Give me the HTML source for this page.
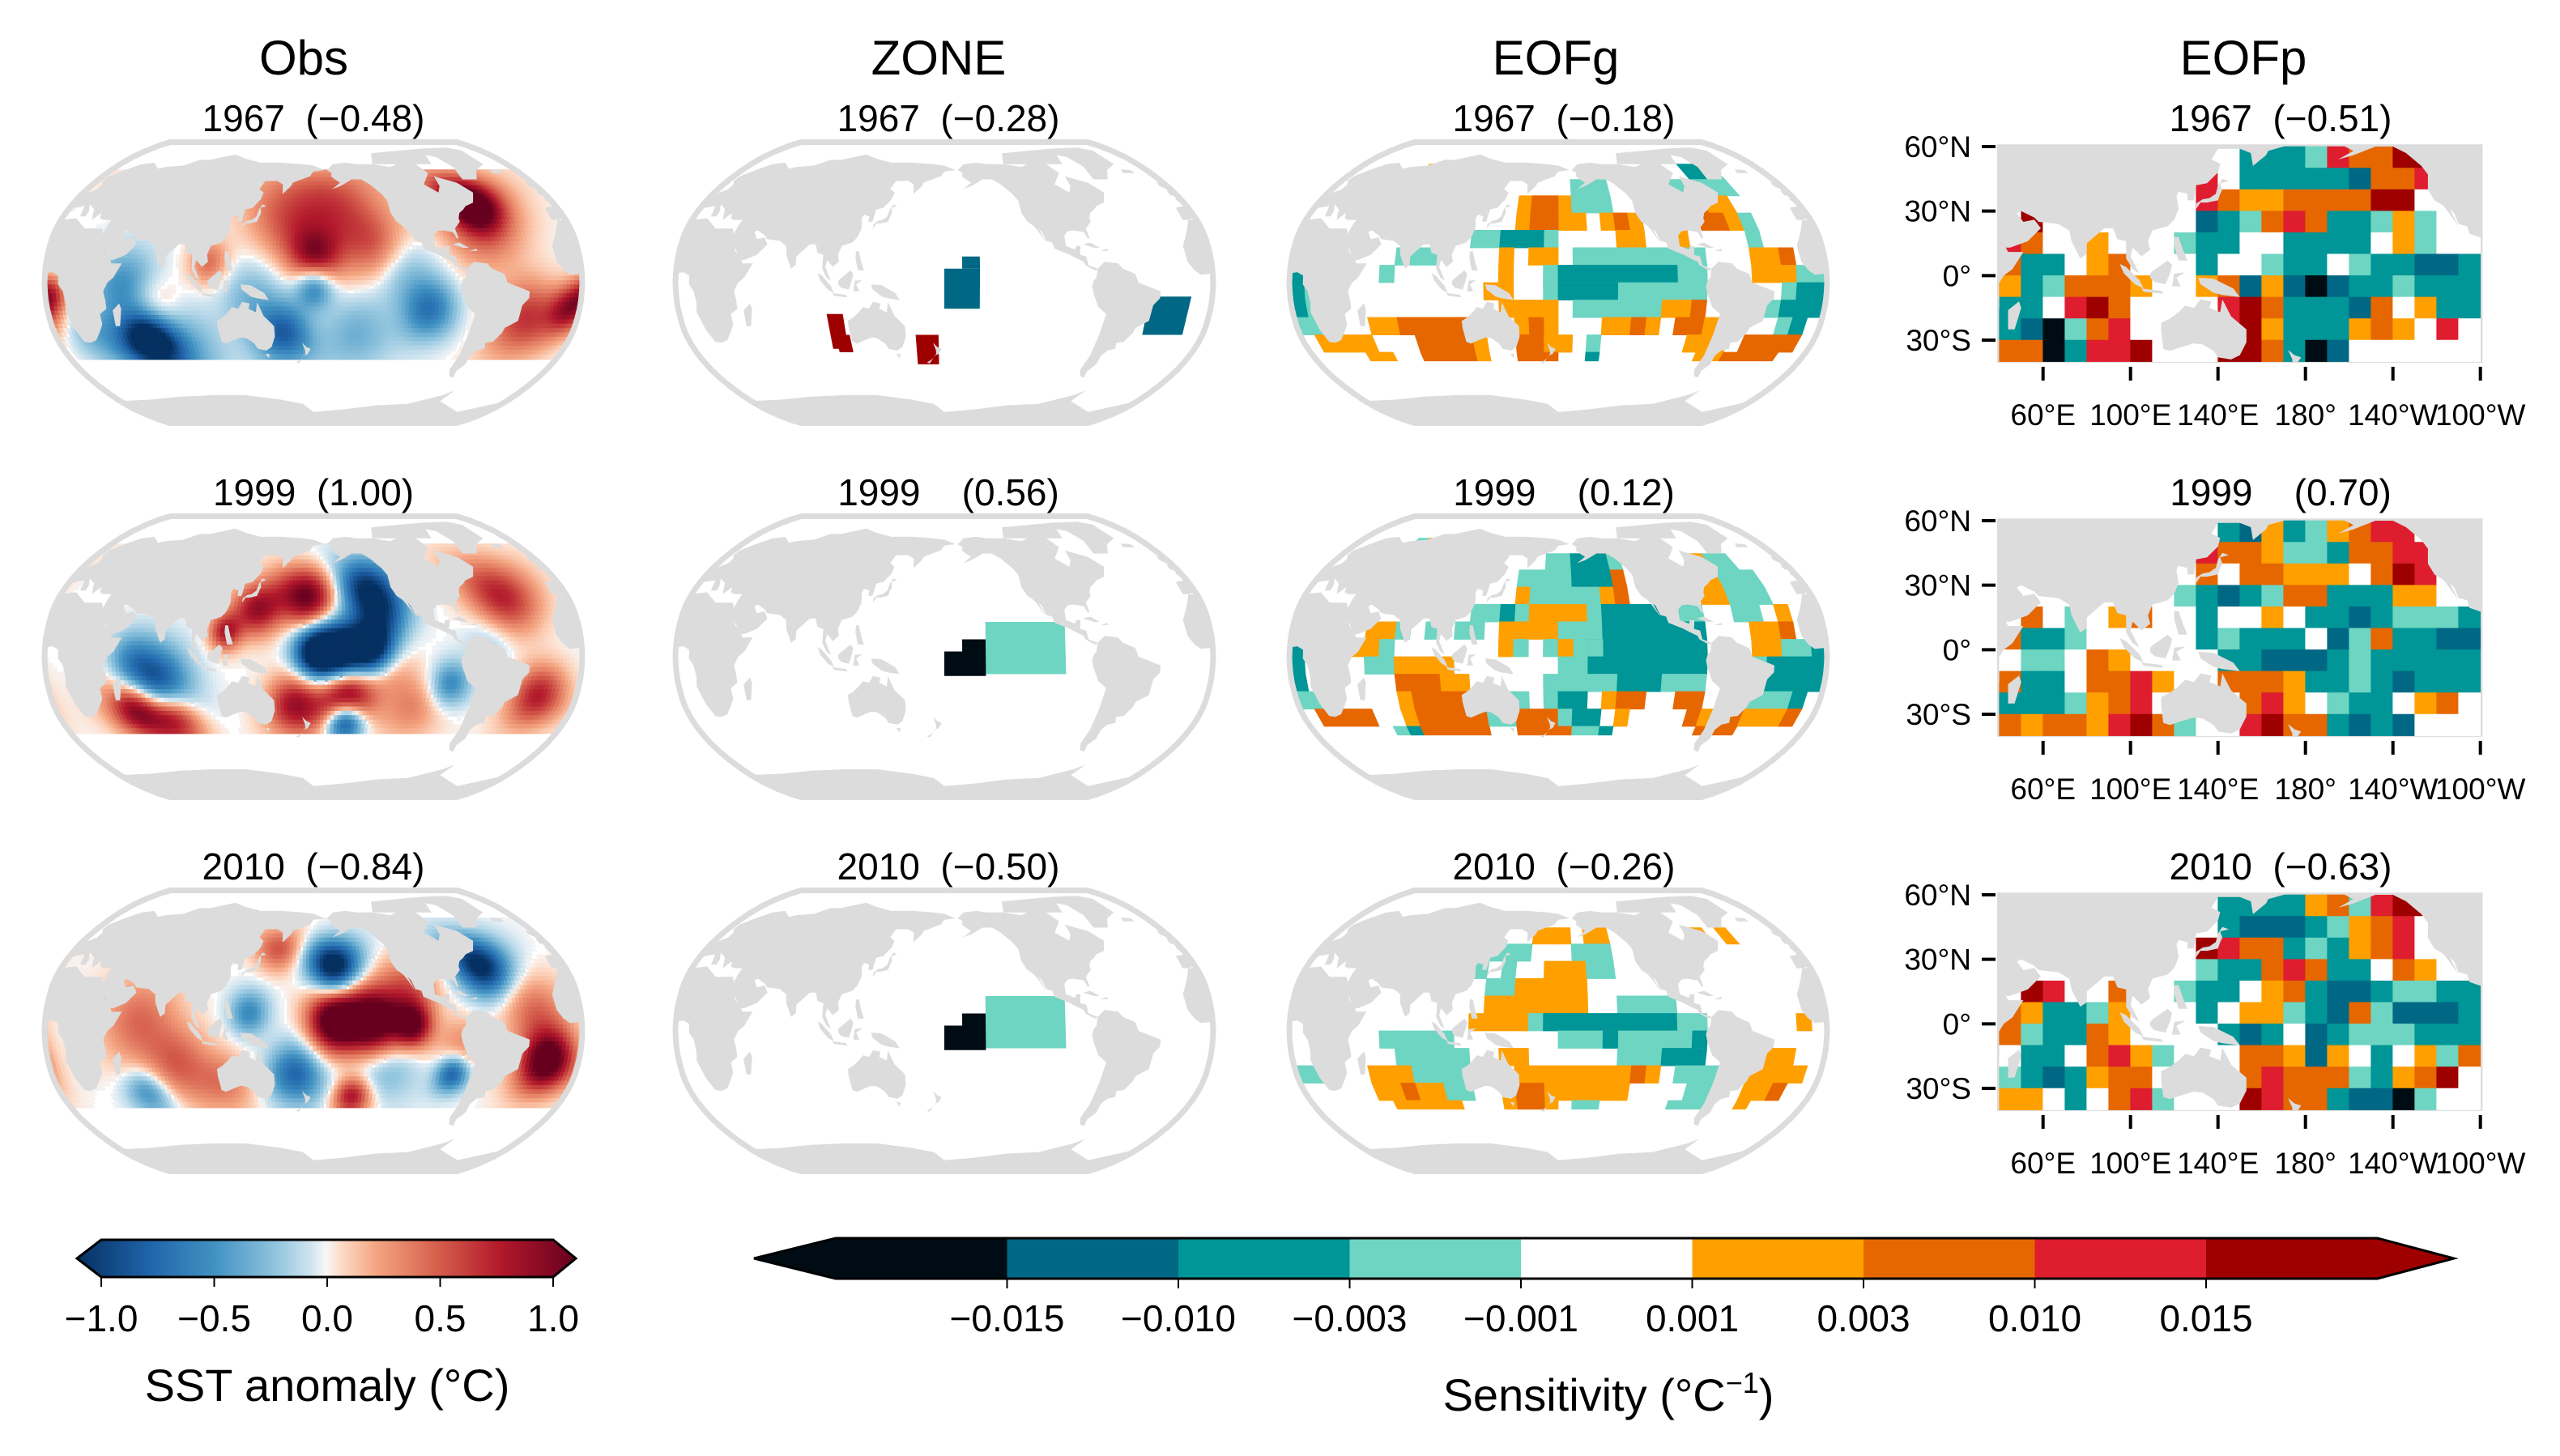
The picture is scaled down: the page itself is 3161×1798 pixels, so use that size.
<!DOCTYPE html>
<html><head><meta charset="utf-8"><style>
html,body{margin:0;padding:0;background:#fff;}
svg{display:block;font-family:"Liberation Sans",Arial,sans-serif;}
.pre{white-space:pre;}
</style></head><body>
<svg id="fig" width="3161" height="1798" viewBox="0 0 3161 1798" xmlns="http://www.w3.org/2000/svg">
<rect x="0" y="0" width="3161" height="1798" fill="#fff"/>
<g font-size="60" text-anchor="middle" fill="#000">
<text x="375" y="92">Obs</text>
<text x="1159" y="92">ZONE</text>
<text x="1921" y="92">EOFg</text>
<text x="2770" y="92">EOFp</text>
</g>
<g font-size="46" text-anchor="middle" fill="#000">
<text class="pre" xml:space="preserve" x="387" y="162">1967  (−0.48)</text>
<text class="pre" xml:space="preserve" x="1171" y="162">1967  (−0.28)</text>
<text class="pre" xml:space="preserve" x="1931" y="162">1967  (−0.18)</text>
<text class="pre" xml:space="preserve" x="2816" y="162">1967  (−0.51)</text>
<text class="pre" xml:space="preserve" x="387" y="624">1999  (1.00)</text>
<text class="pre" xml:space="preserve" x="1171" y="624">1999    (0.56)</text>
<text class="pre" xml:space="preserve" x="1931" y="624">1999    (0.12)</text>
<text class="pre" xml:space="preserve" x="2816" y="624">1999    (0.70)</text>
<text class="pre" xml:space="preserve" x="387" y="1086">2010  (−0.84)</text>
<text class="pre" xml:space="preserve" x="1171" y="1086">2010  (−0.50)</text>
<text class="pre" xml:space="preserve" x="1931" y="1086">2010  (−0.26)</text>
<text class="pre" xml:space="preserve" x="2816" y="1086">2010  (−0.63)</text>
</g>
<defs id="defs">
<linearGradient id="rdbu" x1="0" x2="1" y1="0" y2="0">
<stop offset="0" stop-color="#053061"/><stop offset="0.15" stop-color="#2166ac"/><stop offset="0.28" stop-color="#4393c3"/>
<stop offset="0.4" stop-color="#92c5de"/><stop offset="0.47" stop-color="#d1e5f0"/><stop offset="0.5" stop-color="#f7f7f7"/>
<stop offset="0.53" stop-color="#fddbc7"/><stop offset="0.6" stop-color="#f4a582"/><stop offset="0.72" stop-color="#d6604d"/>
<stop offset="0.85" stop-color="#b2182b"/><stop offset="1" stop-color="#67001f"/>
</linearGradient>
</defs>
<g id="panels"></g>
<g id="cbars"></g>
</svg>
<script>
// ---------- data ----------
const sensCodes = ['a','b','c','d','.','e','f','g','h'];
const sensColors = ['#000c14','#006884','#009596','#6dd5c2','#ffffff','#ff9f00','#e66700','#de1d2f','#9e0000'];
const sensTicks = ['−0.015','−0.010','−0.003','−0.001','0.001','0.003','0.010','0.015'];
const sstTicks = [-1.0,-0.5,0.0,0.5,1.0];
const sstTickLabels = ['−1.0','−0.5','0.0','0.5','1.0'];
const eofpLonTicks = [60,100,140,180,220,260];
const eofpLonLabels = ['60°E','100°E','140°E','180°','140°W','100°W'];
const eofpLatTicks = [60,30,0,-30];
const eofpLatLabels = ['60°N','30°N','0°','30°S'];

// Obs blobs (lon, lat, radius deg, value)
const obs1967Lon = [298,297,182,165,220,181,65,160,54,259,71,325,353,4,110,140,210,240,90,30,200];
const obs1967Lat = [45,35,14,38,22,-2,-33,-30,-3,-16,-16,-21,-16,-7,11,-10,-30,5,-35,-30,45];
const obs1967Rad = [7,12,8,12,10,6,8,8,10,8,8,10,6,5,6,10,10,10,10,8,10];
const obs1967Val = [1.0,0.5,0.8,0.5,0.5,-0.7,-1.3,-0.7,-0.5,-0.6,0.4,0.6,0.7,0.6,0.4,-0.3,-0.3,-0.25,-0.3,-0.3,0.3];

const obs1999Lon = [182,200,221,216,229,176,142,203,168,76,58,58,82,203,313,334,121,273,250,300,40,230];
const obs1999Lat = [2,2,4,41,26,34,27,-21,-28,-16,-3,-31,-36,-38,34,-23,14,-16,-30,10,-20,-8];
const obs1999Rad = [7,8,7,8,8,8,7,8,8,10,8,7,7,5,10,8,5,6,8,8,8,8];
const obs1999Val = [-1.2,-1.3,-1.1,-0.8,-0.7,1.0,0.8,1.0,0.8,-0.8,-0.4,1.0,0.8,-1.0,0.7,0.7,0.7,-0.5,0.3,-0.2,0.2,0.3];

const obs2010Lon = [221,194,247,195,300,339,168,137,276,63,90,155,247,208,63,330,230,120,280];
const obs2010Lat = [5,5,3,37,37,-18,-25,10,-25,5,-20,47,25,-38,-36,10,-20,-30,-10];
const obs2010Rad = [9,8,6,7,8,8,8,6,5,12,10,6,8,5,6,10,10,8,8];
const obs2010Val = [1.3,1.2,1.0,-1.2,-1.1,1.2,-0.7,-0.5,-0.8,0.4,0.4,0.5,0.4,0.8,-0.5,0.4,-0.3,0.3,0.3];

// ZONE boxes [lon0, lon1, latTop, latBottom, code]
const zone1967Boxes = [[100,111,-18,-38,'h'],[104,114,-30,-40,'h'],[160,176,-30,-47,'h'],[180,204,8,-15,'b'],[192,204,15,8,'b'],[318,346,-8,-30,'b']];
const zone1999Boxes = [[180,208,3,-11,'a'],[192,208,10,3,'a'],[208,262,20,-10,'d']];
const zone2010Boxes = [[180,208,3,-11,'a'],[192,208,10,3,'a'],[208,262,20,-10,'d']];

// EOFg segments [row, col0, col1, code]
const eofg1967Segs = [[0,6,8,'e'],[0,29,30,'c'],[0,31,31,'d'],
[1,19,21,'d'],[1,27,31,'d'],
[2,15,18,'e'],[2,16,17,'f'],[2,19,21,'d'],[2,28,28,'f'],[2,29,30,'e'],
[3,15,18,'e'],[3,16,17,'f'],[3,19,19,'e'],[3,21,23,'e'],[3,22,22,'f'],[3,28,29,'f'],[3,30,30,'e'],[3,31,31,'d'],
[4,12,17,'d'],[4,14,16,'c'],[4,22,23,'e'],[4,26,26,'e'],[4,31,31,'d'],
[5,7,9,'d'],[5,14,14,'e'],[5,16,17,'e'],[5,19,27,'d'],[5,31,33,'e'],[5,33,33,'f'],
[6,0,0,'c'],[6,6,6,'d'],[6,14,14,'e'],[6,17,27,'d'],[6,18,22,'c'],[6,23,25,'c'],[6,31,33,'e'],[6,34,35,'d'],
[7,0,0,'c'],[7,1,1,'d'],[7,13,14,'e'],[7,17,27,'d'],[7,18,21,'c'],[7,33,33,'d'],[7,34,35,'c'],
[8,0,0,'c'],[8,1,1,'d'],[8,14,17,'e'],[8,19,24,'d'],[8,25,27,'e'],[8,27,27,'f'],[8,32,32,'d'],[8,33,35,'c'],
[9,0,1,'d'],[9,5,11,'e'],[9,7,11,'f'],[9,15,17,'e'],[9,16,16,'f'],[9,21,24,'e'],[9,23,23,'f'],[9,26,27,'f'],[9,28,28,'e'],[9,33,33,'d'],[9,34,34,'c'],
[10,1,4,'e'],[10,8,11,'f'],[10,12,12,'e'],[10,15,16,'f'],[10,17,18,'e'],[10,20,20,'d'],[10,27,29,'e'],[10,31,34,'f'],
[11,4,5,'e'],[11,8,11,'f'],[11,12,12,'e'],[11,15,17,'f'],[11,20,20,'c'],[11,28,29,'e'],[11,30,33,'f']];
const eofg1999Segs = [[0,5,5,'d'],[0,6,8,'e'],[0,8,8,'f'],
[1,17,18,'d'],[1,19,21,'c'],[1,22,22,'d'],[1,29,29,'e'],[1,30,31,'d'],
[2,15,18,'d'],[2,19,21,'c'],[2,22,22,'f'],[2,28,29,'e'],[2,30,32,'d'],
[3,15,15,'e'],[3,16,18,'d'],[3,19,20,'d'],[3,21,21,'e'],[3,22,22,'f'],[3,28,29,'e'],[3,30,32,'d'],
[4,12,15,'d'],[4,14,14,'c'],[4,16,19,'e'],[4,20,20,'d'],[4,21,25,'c'],[4,26,27,'d'],[4,30,31,'d'],[4,33,33,'e'],
[5,5,6,'e'],[5,7,7,'d'],[5,9,9,'d'],[5,11,12,'d'],[5,14,17,'e'],[5,18,20,'d'],[5,21,27,'c'],[5,31,33,'e'],[5,33,33,'f'],
[6,0,0,'c'],[6,4,5,'e'],[6,6,6,'d'],[6,14,14,'e'],[6,15,15,'d'],[6,17,19,'d'],[6,18,18,'e'],[6,20,27,'c'],[6,20,20,'d'],[6,31,32,'e'],[6,33,35,'d'],[6,35,35,'c'],
[7,0,0,'c'],[7,5,6,'d'],[7,7,10,'e'],[7,18,19,'d'],[7,20,27,'c'],[7,31,31,'d'],[7,32,35,'c'],
[8,0,0,'c'],[8,7,11,'e'],[8,7,9,'f'],[8,17,21,'d'],[8,22,24,'c'],[8,25,27,'d'],[8,31,35,'c'],
[9,0,1,'d'],[9,7,7,'e'],[9,8,11,'f'],[9,13,15,'d'],[9,17,19,'d'],[9,18,19,'c'],[9,21,21,'e'],[9,22,23,'f'],[9,26,27,'f'],[9,30,33,'d'],[9,34,34,'c'],
[10,1,4,'f'],[10,7,7,'e'],[10,8,12,'f'],[10,13,14,'d'],[10,15,17,'f'],[10,18,20,'d'],[10,19,20,'c'],[10,22,22,'e'],[10,27,27,'f'],[10,28,29,'e'],[10,29,30,'f'],[10,31,34,'e'],[10,34,34,'f'],
[11,6,7,'d'],[11,7,7,'c'],[11,8,12,'f'],[11,15,18,'f'],[11,19,20,'d'],[11,21,21,'c'],[11,28,30,'f']];
const eofg2010Segs = [[1,16,17,'e'],[1,18,18,'e'],[1,20,21,'e'],[1,29,29,'e'],[1,31,31,'e'],
[2,19,21,'d'],[2,13,15,'d'],
[3,14,14,'d'],[3,17,19,'e'],[3,20,21,'d'],[3,12,12,'d'],
[4,15,19,'e'],[4,13,14,'d'],
[5,13,19,'e'],[5,22,25,'d'],
[6,12,15,'e'],[6,16,18,'d'],[6,17,17,'c'],[6,18,25,'c'],[6,26,27,'d'],[6,34,34,'e'],
[7,6,6,'d'],[7,7,10,'d'],[7,18,27,'d'],[7,21,21,'c'],[7,27,27,'c'],
[8,7,11,'d'],[8,14,15,'e'],[8,22,27,'d'],[8,25,27,'c'],[8,32,33,'e'],
[9,0,2,'d'],[9,5,7,'e'],[9,8,11,'d'],[9,15,24,'e'],[9,23,23,'f'],[9,26,28,'d'],[9,31,34,'e'],
[10,5,9,'e'],[10,7,7,'f'],[10,10,11,'d'],[10,14,21,'e'],[10,15,16,'f'],[10,22,22,'e'],[10,27,28,'d'],[10,31,33,'e'],[10,33,33,'f'],
[11,6,10,'e'],[11,14,17,'e'],[11,15,16,'f'],[11,19,20,'d'],[11,26,28,'d'],[11,31,31,'e']];

// EOFp grids
const eofp1967Rows = ["...........cccdgffhh..",".........g.cccccbffg..",".........gfeeffffhh...",".h.......bcdfgfccded..","gf..e...dcc..cccc.ed..","fcc.ef...c..dcc.dccbbc","ecdfffe..efbebabccdccc","cc.ghf....ghfcccbf.ecc","cbadfg....ghecccefe.g.","ffacggh...hhfcab......"];
const eofp1999Rows = ["..........cbecdefgg...",".........gffeddcffgg..",".........f.ffeee.fhg..","........dcbcdffcccee..",".f.d.ef..c..e.ccbcdddc","fccd.....cdccc.bdfccbb",".dd.fe....ccbbbcdccccc","fcc.ffge..fffeccdcbccc","cccdefg....fge.dcc.ef.","feffeghfd..ghffcbcb..."];
const eofp2010Rows = ["..........ccccefdghh..","..........cbbbcdefg...",".........hgffcdcefg...",".........dccfgfcc.fe..",".hg..f..dcc.efcbbcddcc","feccde...c.eedcbfdbbbc","fdccfe....cbc.bcdddccc",".cc.fged...ffebe.c.edf","dcbceff....fgfffdcefh.","ee.c.fgd...hgffcbbad.."];

// land polygons [lon,lat]
const landPolys = [
[[-17,21],[-16,12],[-12,7],[-8,4.5],[-2,5],[5,6],[9,4],[9,-1],[12,-5],[13,-12],[12,-17],[15,-27],[18,-34],[22,-34.5],[27,-33],[32,-28],[35,-24],[35,-18],[40,-15],[40,-10],[39,-5],[42,0],[46,3],[51,11],[44,11],[43,13],[38,18],[34,28],[32,31],[20,31],[10,37],[0,36],[-6,36],[-10,31],[-13,27]],
[[44,-25],[47,-25],[50,-15],[49,-12],[44,-16]],
[[-10,36],[-9,43],[-2,44],[-4,48],[2,51],[8,54],[8,57],[5,59],[5,62],[12,66],[20,70],[30,71],[40,67],[45,68],[60,69],[70,73],[80,73],[100,77],[113,74],[130,71],[150,71],[170,70],[180,69],[190,66],[180,65],[177,62],[170,60],[163,58],[162,56],[156,51],[155,57],[150,59],[140,59],[137,54],[141,52],[140,48],[135,43],[130,42],[129,35],[126,35],[126,38],[122,39],[121,37],[122,31],[120,26],[117,23],[110,21],[108,16],[109,12],[105,9],[101,13],[100,9],[104,1],[101,3],[98,8],[98,16],[94,17],[92,22],[88,22],[80,15],[80,10],[77,8],[73,16],[72,21],[67,24],[58,25],[56,27],[50,30],[48,29],[51,25],[56,26],[59,22],[53,16],[45,13],[43,13],[40,16],[36,22],[34,28],[35,33],[36,36],[30,36],[27,37],[26,40],[24,38],[22,36],[20,40],[19,42],[13,45],[16,41],[16,38],[12,38],[10,44],[3,43],[-1,37],[-6,36]],
[[130,31],[132,34],[135,34],[140,35],[141,38],[142,40],[141,43],[145,44],[142,45],[140,42],[139,38],[136,36],[133,35.5],[130,33.5]],
[[109,1],[110,2],[117,7],[119,5],[118,1],[116,-4],[111,-3],[109,-1]],
[[95,5.5],[98,4],[104,-2],[106,-6],[102,-4],[97,1]],
[[105,-6],[114,-7],[115,-8.5],[106,-7.5]],
[[119,-5],[120,1],[125,1.5],[121,-1],[123,-5]],
[[120,18],[122,18],[124,12],[126,7],[122,7],[120,14]],
[[131,-1],[138,-1.5],[147,-6],[150,-10],[142,-9],[138,-8],[132,-4]],
[[114,-22],[114,-26],[115,-34],[118,-35],[124,-33],[129,-31.5],[133,-32],[138,-35],[140,-38],[146,-39],[150,-37],[153,-31],[153,-25],[146,-19],[142,-11],[141,-17],[136,-15],[137,-12],[132,-11],[129,-15],[125,-14],[122,-17],[118,-20]],
[[145,-41],[148,-41],[147,-43.5]],
[[172,-34.5],[175,-37],[178,-38],[176,-41],[174,-41.5],[171,-44],[167,-46],[169,-46.5],[174,-41],[174,-39]],
[[-168,66],[-162,70],[-150,71],[-140,70],[-125,70],[-110,68],[-95,72],[-85,70],[-80,64],[-90,57],[-82,52],[-78,56],[-77,62],[-70,60],[-62,58],[-55,52],[-60,46],[-67,44],[-70,42],[-74,40],[-76,37],[-76,35],[-81,31],[-80,26],[-81,25],[-83,29],[-90,30],[-94,29.5],[-97,27],[-97,21],[-91,19],[-90,21],[-87,21],[-88,16],[-84,15],[-83,10],[-80,9],[-77,8],[-78,7],[-80,7.5],[-85,10],[-86,12],[-92,14.5],[-95,16],[-105,19.5],[-106,23],[-110,24],[-112,29],[-114,31],[-110,23],[-115,30],[-117,32.5],[-121,35],[-124,40],[-124,47],[-127,51],[-134,57],[-140,60],[-148,60],[-153,58],[-158,56],[-165,54],[-158,58],[-162,60],[-165,62],[-164,64]],
[[-85,22],[-80,23],[-74,20],[-78,20]],
[[-74,18],[-69,19.5],[-68.5,18.3]],
[[-55,60],[-43,60],[-35,66],[-22,70],[-20,80],[-30,83],[-60,82],[-72,78],[-58,75],[-53,68]],
[[-125,70],[-70,70],[-60,82],[-120,78]],
[[-77,8],[-72,12],[-63,11],[-60,8],[-52,5],[-50,0],[-44,-2],[-35,-5],[-35,-9],[-39,-13],[-40,-22],[-48,-26],[-49,-29],[-53,-34],[-58,-34.5],[-57,-38],[-62,-39],[-65,-42],[-65,-47],[-69,-51],[-68,-55],[-72,-54],[-75,-50],[-73,-42],[-72,-30],[-70,-18],[-76,-14],[-80,-6],[-81,-2],[-80,1],[-78,3]],
[[-5,50],[1,51],[0,53],[-2,57],[-5,58.5],[-6,56],[-3,54],[-5,52]],
[[-24,64],[-14,64],[-14,66],[-22,66.5]],
[[-180,-78],[-150,-76],[-120,-73],[-90,-72],[-65,-66],[-58,-63],[-62,-70],[-30,-78],[0,-70],[30,-69],[60,-67],[90,-66],[120,-66],[150,-69],[170,-72],[180,-78],[180,-90],[-180,-90]]
];

// ---------- helpers ----------
const NS='http://www.w3.org/2000/svg';
function mk(tag, attrs, parent){const e=document.createElementNS(NS,tag);for(const k in attrs)e.setAttribute(k,attrs[k]);if(parent)parent.appendChild(e);return e;}
const XT=[1,0.9986,0.9954,0.99,0.9822,0.973,0.96,0.9427,0.9216,0.8962,0.8679,0.835,0.7986,0.7597,0.7186,0.6732,0.6213,0.5722,0.5322];
const YT=[0,0.062,0.124,0.186,0.248,0.31,0.372,0.434,0.4958,0.5571,0.6176,0.6769,0.7346,0.7903,0.8435,0.8936,0.9394,0.9761,1];
function rob(lat){const s=lat<0?-1:1;let a=Math.min(90,Math.abs(lat))/5;let i=Math.floor(a);if(i>17)i=17;const f=a-i;return [XT[i]+(XT[i+1]-XT[i])*f, s*(YT[i]+(YT[i+1]-YT[i])*f)];}
const HW=332, VH=173.5;
function proj(cx,cy,lon,lat){const r=rob(lat);return [cx+(lon-180)/180*HW*r[0], cy-r[1]*VH];}
function outlinePath(cx,cy){let p=[];for(let la=90;la>=-90;la-=5)p.push(proj(cx,cy,0,la));for(let la=-90;la<=90;la+=5)p.push(proj(cx,cy,360,la));return 'M'+p.map(q=>q[0].toFixed(1)+','+q[1].toFixed(1)).join('L')+'Z';}
function sensColor(c){return sensColors[sensCodes.indexOf(c)];}
const cmStops=[[-1,[5,48,97]],[-0.7,[33,102,172]],[-0.44,[67,147,195]],[-0.2,[146,197,222]],[-0.06,[209,229,240]],[0,[247,247,247]],[0.06,[253,219,199]],[0.2,[244,165,130]],[0.44,[214,96,77]],[0.7,[178,24,43]],[1,[103,0,31]]];
function rdbu(v){v=Math.max(-1,Math.min(1,v));for(let i=0;i<cmStops.length-1;i++){const a=cmStops[i],b=cmStops[i+1];if(v<=b[0]){const t=(v-a[0])/(b[0]-a[0]);return 'rgb('+a[1].map((c,j)=>Math.round(c+(b[1][j]-c)*t)).join(',')+')';}}return 'rgb(103,0,31)';}
function cellPoly(cx,cy,lon0,lon1,lat0,lat1){const pts=[proj(cx,cy,lon0,lat0),proj(cx,cy,lon1,lat0),proj(cx,cy,lon1,lat1),proj(cx,cy,lon0,lat1)];return pts.map(q=>q[0].toFixed(1)+','+q[1].toFixed(1)).join(' ');}

const panels=document.getElementById('panels');
const defs=document.getElementById('defs');
const colX=[387,1166,1924];
const rowY=[349,811,1273];
let clipN=0;

function robinsonPanel(cx,cy,name){
  const id='clip'+(clipN++);
  const cp=mk('clipPath',{id:id},defs);
  mk('path',{d:outlinePath(cx,cy)},cp);
  const g=mk('g',{},panels);
  
  
  const inner=mk('g',{'clip-path':'url(#'+id+')'},g);
  mk('path',{d:outlinePath(cx,cy),fill:'#ffffff'},inner);
  const data=mk('g',{},inner);
  
  
  const land=mk('g',{fill:'#dcdcdc'},inner);
  
  
  for(const poly of landPolys){for(const sh of [-360,0,360]){
    const pts=poly.map(p=>{const q=proj(cx,cy,p[0]+sh,p[1]);return q[0].toFixed(1)+','+q[1].toFixed(1);}).join(' ');
    mk('polygon',{points:pts},land);}}
  const ol=mk('path',{d:outlinePath(cx,cy),fill:'none',stroke:'#dcdcdc','stroke-width':7},g);
  
  
  return data;
}

// Obs panels
function obsPanel(r,lons,lats,rads,vals,year){
  const cx=colX[0],cy=rowY[r];
  const data=robinsonPanel(cx,cy,'obs-map-'+year);
  for(let lat=66;lat>-42;lat-=2.5){for(let lon=0;lon<360;lon+=2.5){
    const la=lat-1.25,lo=lon+1.25;let v=0;
    for(let i=0;i<lons.length;i++){let dl=Math.abs(lo-lons[i]);if(dl>180)dl=360-dl;dl*=Math.cos(la*Math.PI/180);const dd=dl*dl+(la-lats[i])*(la-lats[i]);const rr=rads[i]*1.5;v+=vals[i]*Math.exp(-dd/(2*rr*rr));}
    if(Math.abs(v)<0.01)continue;
    const c=mk('polygon',{points:cellPoly(cx,cy,lon-0.4,lon+2.9,lat+0.4,lat-2.9),fill:rdbu(v)},data);
    
    
  }}
}
obsPanel(0,obs1967Lon,obs1967Lat,obs1967Rad,obs1967Val,'1967');
obsPanel(1,obs1999Lon,obs1999Lat,obs1999Rad,obs1999Val,'1999');
obsPanel(2,obs2010Lon,obs2010Lat,obs2010Rad,obs2010Val,'2010');

// ZONE panels
function zonePanel(r,boxes,year){
  const cx=colX[1],cy=rowY[r];
  const data=robinsonPanel(cx,cy,'zone-map-'+year);
  for(const b of boxes){
    const c=mk('polygon',{points:cellPoly(cx,cy,b[0],b[1],b[2],b[3]),fill:sensColor(b[4])},data);
    
    
  }
}
zonePanel(0,zone1967Boxes,'1967');
zonePanel(1,zone1999Boxes,'1999');
zonePanel(2,zone2010Boxes,'2010');

// EOFg panels
function eofgPanel(r,segs,year){
  const cx=colX[2],cy=rowY[r];
  const data=robinsonPanel(cx,cy,'eofg-map-'+year);
  for(const s of segs){
    const latTop=70-10*s[0];let latBot=latTop-10;if(latBot<-45)latBot=-45;
    const c=mk('polygon',{points:cellPoly(cx,cy,10*s[1]-0.2,10*s[2]+10.2,latTop+0.2,latBot-0.2),fill:sensColor(s[3])},data);
    
    
  }
}
eofgPanel(0,eofg1967Segs,'1967');
eofgPanel(1,eofg1999Segs,'1999');
eofgPanel(2,eofg2010Segs,'2010');

// EOFp panels (equirectangular)
const PX0=2466, PLON0=39, PKX=2.7, PY60=181, PKY=2.656;
function px(lon){return PX0+(lon-PLON0)*PKX;}
function py(lat,off){return PY60+off+(60-lat)*PKY;}
function eofpPanel(r,rows,year){
  const off=462*r;
  const g=mk('g',{},panels);
  
  
  const id='clip'+(clipN++);
  const cp=mk('clipPath',{id:id},defs);
  mk('rect',{x:px(39),y:py(61,off),width:px(261)-px(39),height:py(-40.5,off)-py(61,off)},cp);
  const bg=mk('rect',{x:px(39),y:py(61,off),width:px(261)-px(39),height:py(-40.5,off)-py(61,off),fill:'#dcdcdc'},g);
  
  
  const inner=mk('g',{'clip-path':'url(#'+id+')'},g);
  rows.forEach((row,ri)=>{for(let k=0;k<row.length;k++){
    const lon0=40+10*k,lat0=60-10*ri;
    const c=mk('rect',{x:px(lon0)-0.3,y:py(lat0,off)-0.3,width:10*PKX+0.6,height:10*PKY+0.6,fill:sensColor(row[k])},inner);
    
    
  }});
  const land=mk('g',{fill:'#dcdcdc'},inner);
  
  
  for(const poly of landPolys){for(const sh of [0,360]){
    mk('polygon',{points:poly.map(p=>px(p[0]+sh).toFixed(1)+','+py(p[1],off).toFixed(1)).join(' ')},land);}}
  const ax=mk('g',{},g);
  
  
  eofpLonTicks.forEach((t,i)=>{
    const tk=mk('line',{x1:px(t),x2:px(t),y1:py(-40.5,off)+5,y2:py(-40.5,off)+22,stroke:'#000','stroke-width':4},ax);
    
    
    const tx=mk('text',{x:px(t),y:525+off,'font-size':37,'text-anchor':'middle'},ax);
    tx.textContent=eofpLonLabels[i];
    
    
  });
  eofpLatTicks.forEach((t,i)=>{
    const tk=mk('line',{x1:2447,x2:2464,y1:py(t,off),y2:py(t,off),stroke:'#000','stroke-width':4},ax);
    
    
    const tx=mk('text',{x:2434,y:py(t,off)+13,'font-size':37,'text-anchor':'end'},ax);
    tx.textContent=eofpLatLabels[i];
    
    
  });
}
eofpPanel(0,eofp1967Rows,'1967');
eofpPanel(1,eofp1999Rows,'1999');
eofpPanel(2,eofp2010Rows,'2010');

// ---------- colorbars ----------
const cb=document.getElementById('cbars');
const sstX0=125, sstX1=683, cbY0=1531, cbY1=1577;
function sstX(v){return sstX0+(v+1)/2*(sstX1-sstX0);}
const sstBar=mk('polygon',{points:`${sstX0},${cbY0} ${sstX1},${cbY0} 711,${(cbY0+cbY1)/2} ${sstX1},${cbY1} ${sstX0},${cbY1} 95,${(cbY0+cbY1)/2}`,fill:'url(#rdbu)',stroke:'#000','stroke-width':3},cb);


sstTicks.forEach((t,i)=>{
  const l=mk('line',{x1:sstX(t),x2:sstX(t),y1:cbY1,y2:cbY1+12,stroke:'#000','stroke-width':2},cb);
  
  
  const tx=mk('text',{x:sstX(t),y:1644,'font-size':46,'text-anchor':'middle'},cb);
  tx.textContent=sstTickLabels[i];
  
  
});
const sstT=mk('text',{x:404,y:1730,'font-size':56,'text-anchor':'middle'},cb);
sstT.textContent='SST anomaly (°C)';



const sb0=1032, sbW=211.5, sY0=1529, sY1=1579, sMid=(sY0+sY1)/2;
function sensEdge(i){return sb0+i*sbW;}
sensColors.forEach((col,i)=>{
  let pts;
  if(i===0) pts=`931,${sMid} ${sb0},${sY0} ${sensEdge(1)},${sY0} ${sensEdge(1)},${sY1} ${sb0},${sY1}`;
  else if(i===sensColors.length-1) pts=`${sensEdge(i)},${sY0} ${sensEdge(i+1)},${sY0} 3030,${sMid} ${sensEdge(i+1)},${sY1} ${sensEdge(i)},${sY1}`;
  else pts=`${sensEdge(i)},${sY0} ${sensEdge(i+1)},${sY0} ${sensEdge(i+1)},${sY1} ${sensEdge(i)},${sY1}`;
  const p=mk('polygon',{points:pts,fill:col},cb);
  
  
});
const sOut=mk('polygon',{points:`931,${sMid} ${sb0},${sY0} ${sensEdge(9)},${sY0} 3030,${sMid} ${sensEdge(9)},${sY1} ${sb0},${sY1}`,fill:'none',stroke:'#000','stroke-width':3},cb);


sensTicks.forEach((t,i)=>{
  const x=sensEdge(i+1);
  const l=mk('line',{x1:x,x2:x,y1:sY1,y2:sY1+12,stroke:'#000','stroke-width':2},cb);
  
  
  const tx=mk('text',{x:x,y:1644,'font-size':46,'text-anchor':'middle'},cb);
  tx.textContent=t;
  
  
});
const sT=mk('text',{x:1986,y:1742,'font-size':56,'text-anchor':'middle'},cb);


const t1=mk('tspan',{},sT);t1.textContent='Sensitivity (°C';
const t2=mk('tspan',{dy:-22,'font-size':36},sT);t2.textContent='−1';
const t3=mk('tspan',{dy:22},sT);t3.textContent=')';
</script>
</body></html>
